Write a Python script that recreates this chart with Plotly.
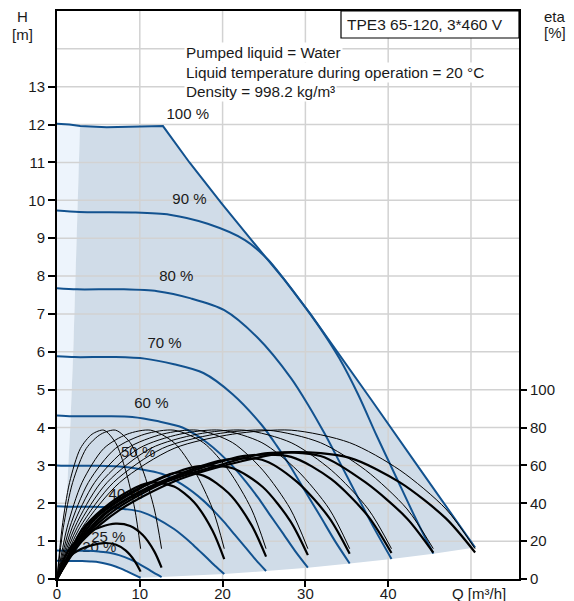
import plotly.graph_objects as go

# ---------------- data ----------------
speed_labels = ["100 %", "90 %", "80 %", "70 %", "60 %", "50 %", "40 %", "25 %", "20 %"]
label_q = [15.8, 16.0, 14.4, 13.0, 11.4, 9.8, 8.3, 6.2, 5.1]
label_h = [12.25, 10.0, 7.98, 6.2, 4.62, 3.31, 2.22, 1.08, 0.82]

# head curves  Q [m3/h], H [m]
q100 = [0, 1.5, 2.8, 6, 10, 12.8, 16, 19.9, 23.3, 27.5, 30.6, 34.5, 38, 44, 50.5]
h100 = [12.02, 12.0, 11.96, 11.93, 11.95, 11.96, 11.0, 9.91, 9.0, 7.89, 7.0, 5.78, 4.72, 2.85, 0.83]
q90 = [0, 2.7, 9.1, 13.6, 18.2, 22.7, 25.5, 27.3, 29.5, 31.8, 34.1, 36.4, 38.6, 40.9, 43.2, 45.45]
h90 = [9.73, 9.69, 9.68, 9.62, 9.38, 8.95, 8.43, 7.95, 7.32, 6.62, 5.83, 4.86, 3.79, 2.72, 1.65, 0.67]
q80 = [0, 2.42, 8.08, 12.12, 16.16, 20.2, 24.24, 28.28, 30.3, 32.32, 34.34, 36.36, 38.38, 40.4]
h80 = [7.68, 7.65, 7.65, 7.60, 7.41, 7.10, 6.37, 5.30, 4.61, 3.84, 3.0, 2.15, 1.31, 0.53]
q70 = [0, 2.12, 7.07, 10.6, 14.14, 17.68, 21.21, 24.75, 26.51, 28.28, 30.05, 31.82, 33.58, 35.35]
h70 = [5.88, 5.86, 5.86, 5.82, 5.67, 5.44, 4.88, 4.06, 3.53, 2.94, 2.29, 1.65, 1.0, 0.41]
q60 = [0, 1.82, 6.06, 9.09, 12.12, 15.15, 18.18, 21.21, 22.73, 24.24, 25.76, 27.27, 28.79, 30.3]
h60 = [4.32, 4.30, 4.30, 4.28, 4.17, 4.0, 3.59, 2.98, 2.59, 2.16, 1.68, 1.21, 0.73, 0.30]
q50 = [0, 1.52, 5.05, 7.58, 10.1, 12.63, 15.15, 17.68, 18.94, 20.2, 21.46, 22.73, 23.99, 25.25]
h50 = [3.0, 2.99, 2.99, 2.97, 2.90, 2.78, 2.49, 2.07, 1.8, 1.5, 1.17, 0.84, 0.51, 0.21]
q40 = [0, 1.21, 4.04, 6.06, 8.08, 10.1, 12.12, 14.14, 15.15, 16.16, 17.17, 18.18, 19.19, 20.2]
h40 = [1.92, 1.91, 1.91, 1.90, 1.85, 1.78, 1.59, 1.32, 1.15, 0.96, 0.75, 0.54, 0.33, 0.13]
q25 = [0, 0.76, 2.53, 3.79, 5.05, 6.32, 7.58, 8.84, 9.47, 10.1, 10.74, 11.37, 12.0, 12.63]
h25 = [0.75, 0.747, 0.747, 0.743, 0.724, 0.694, 0.623, 0.518, 0.45, 0.375, 0.293, 0.21, 0.128, 0.052]
q20 = [0, 0.61, 2.02, 3.03, 4.04, 5.05, 6.06, 7.07, 7.58, 8.08, 8.59, 9.09, 9.6, 10.1]
h20 = [0.48, 0.478, 0.478, 0.475, 0.463, 0.444, 0.398, 0.331, 0.288, 0.24, 0.187, 0.134, 0.082, 0.033]

# efficiency curves  Q [m3/h], eta [%]
qe100 = [0, 3.03, 7.58, 14.14, 21.21, 28.28, 35.35, 41.41, 46.97, 50.5]
qe90 = [0, 2.73, 6.82, 12.73, 19.09, 25.45, 31.82, 37.27, 42.27, 45.45]
qe80 = [0, 2.42, 6.06, 11.31, 16.97, 22.62, 28.28, 33.13, 37.57, 40.4]
qe70 = [0, 2.12, 5.30, 9.90, 14.85, 19.80, 24.75, 28.99, 32.88, 35.35]
qe60 = [0, 1.82, 4.55, 8.48, 12.73, 16.97, 21.21, 24.85, 28.18, 30.3]
qe50 = [0, 1.52, 3.79, 7.07, 10.61, 14.14, 17.68, 20.71, 23.48, 25.25]
qe40 = [0, 1.21, 3.03, 5.66, 8.48, 11.31, 14.14, 16.56, 18.79, 20.2]
qe25 = [0, 0.76, 1.89, 3.54, 5.30, 7.07, 8.84, 10.36, 11.75, 12.63]
qe20 = [0, 0.61, 1.52, 2.83, 4.24, 5.66, 7.07, 8.28, 9.39, 10.1]
eta_pump = [0, 27, 51, 69, 76.5, 78.6, 72, 57.5, 37, 16]
eta_tot100 = [0, 20, 36.5, 51.5, 61, 67, 64, 51, 32, 14]
eta_tot90 = [0, 19.5, 36, 50.5, 59.5, 66.5, 65, 51, 32, 13.9]
eta_tot80 = [0, 18, 35, 48.5, 58, 65, 64.5, 52.7, 33.2, 13.7]
eta_tot70 = [0, 16, 33, 46, 55.5, 62.5, 63, 51.3, 32.3, 13.3]
eta_tot60 = [0, 14.5, 31.5, 44, 53.5, 59.5, 58.5, 48.6, 30.6, 12.6]
eta_tot50 = [0, 12.5, 29, 41, 49.5, 56, 54.6, 45.4, 28.6, 11.8]
eta_tot40 = [0, 11, 26, 37.5, 46, 51, 48.8, 40.5, 25.5, 10.5]
eta_tot25 = [0, 9.9, 18.1, 24.1, 27.5, 29.2, 28, 23.2, 14.6, 6]
eta_tot20 = [0, 6.4, 11.8, 15.7, 17.9, 19, 18.2, 15.1, 9.5, 3.9]

# operating-range boundaries
minflow_q = [2.78, 2.53, 2.26, 1.96, 1.6, 1.13, 0.55]
minflow_h = [11.96, 10, 8, 6, 4, 2, 0.478]
endline_q = [50.5, 45.45, 40.4, 35.35, 30.3, 25.25, 20.2, 12.63, 10.1]
endline_h = [0.83, 0.67, 0.53, 0.41, 0.30, 0.21, 0.13, 0.052, 0.033]

# axes
q_ticks = [0, 10, 20, 30, 40]
q_grid = [10, 20, 30, 40, 50]
h_ticks = list(range(0, 14))
h_grid = list(range(1, 15))
eta_ticks = [0, 20, 40, 60, 80, 100]

# ---------------- figure ----------------
BLUE = "#12528f"
FONT = "Liberation Sans, Arial, sans-serif"
TXT = "#1a1a1a"
fig = go.Figure()

# light zone left of min flow line
lq = [0, 0] + q100[1:3] + minflow_q[1:] + [0]
lh = [0, h100[0]] + h100[1:3] + minflow_h[1:] + [0]
fig.add_trace(go.Scatter(x=lq, y=lh, fill="toself", fillcolor="#edf4fc",
                         line=dict(width=0), mode="lines", hoverinfo="skip"))

# operating zone
dq = q100[2:] + endline_q[1:] + q20[::-1][1:-1] + minflow_q[::-1]
dh = h100[2:] + endline_h[1:] + h20[::-1][1:-1] + minflow_h[::-1]
fig.add_trace(go.Scatter(x=dq, y=dh, fill="toself", fillcolor="#d0dce8",
                         line=dict(width=0), mode="lines", hoverinfo="skip"))

# grid lines (over the fills)
gx, gy = [], []
for g in q_grid:
    gx += [g, g, None]
    gy += [0, 15, None]
for g in h_grid:
    gx += [0, 55.8, None]
    gy += [g, g, None]
fig.add_trace(go.Scatter(x=gx, y=gy, mode="lines", line=dict(color="#d2d2d2", width=1.5),
                         hoverinfo="skip"))

# speed labels
fig.add_trace(go.Scatter(x=label_q, y=label_h, mode="text", text=speed_labels,
                         textfont=dict(family=FONT, size=15, color=TXT),
                         hoverinfo="skip"))

# head curves
fig.add_trace(go.Scatter(x=q100, y=h100, mode="lines", line=dict(color=BLUE, width=2),
                         hoverinfo="skip"))
for qs, hs in [(q90, h90), (q80, h80), (q70, h70), (q60, h60), (q50, h50),
               (q40, h40), (q25, h25), (q20, h20)]:
    fig.add_trace(go.Scatter(x=qs, y=hs, mode="lines",
                             line=dict(color=BLUE, width=2, shape="spline", smoothing=0.8),
                             hoverinfo="skip"))

# efficiency curves
qe_all = [qe100, qe90, qe80, qe70, qe60, qe50, qe40, qe25, qe20]
tot_all = [eta_tot100, eta_tot90, eta_tot80, eta_tot70, eta_tot60, eta_tot50,
           eta_tot40, eta_tot25, eta_tot20]
for qs in qe_all:
    fig.add_trace(go.Scatter(x=qs, y=eta_pump, yaxis="y2", mode="lines",
                             line=dict(color="black", width=1, shape="spline", smoothing=0.8),
                             hoverinfo="skip"))
for qs, es in zip(qe_all, tot_all):
    fig.add_trace(go.Scatter(x=qs, y=es, yaxis="y2", mode="lines",
                             line=dict(color="black", width=2.2, shape="spline", smoothing=0.8),
                             hoverinfo="skip"))

axis_common = dict(showgrid=False, zeroline=False, showline=True, linecolor="black",
                   linewidth=2, ticks="outside", tickwidth=1.5,
                   tickcolor="black", tickfont=dict(family=FONT, size=15, color=TXT))

fig.update_layout(
    width=574, height=601,
    margin=dict(l=57, r=55, t=11, b=22, autoexpand=False),
    paper_bgcolor="white", plot_bgcolor="white",
    showlegend=False,
    font=dict(family=FONT, size=15, color=TXT),
    xaxis=dict(range=[0, 55.8], tickvals=q_ticks, mirror=True, ticklen=6,
               ticklabelstandoff=-6, **axis_common),
    yaxis=dict(range=[0, 15], tickvals=h_ticks, mirror=True, ticklen=7, **axis_common),
    yaxis2=dict(range=[0, 300], tickvals=eta_ticks, overlaying="y", side="right",
                showgrid=False, zeroline=False, showline=False, ticks="outside",
                ticklen=7, tickwidth=1.5, tickcolor="black",
                tickfont=dict(family=FONT, size=15, color=TXT)),
)


def px_x(p):
    return (p - 57) / 462.0


def px_y(p):
    return (579 - p) / 568.0


fig.add_shape(type="rect", xref="paper", yref="paper", x0=px_x(341), x1=1.0,
              y0=px_y(38), y1=1.0, line=dict(color="black", width=1.2),
              fillcolor="white", layer="above")

ann = [
    ("TPE3 65-120, 3*460 V", 425, 24.5, "center", None, 15.5),
    ("H", 22, 17, "center", None, 15),
    ("[m]", 22, 34, "center", None, 15),
    ("eta", 555, 17, "center", None, 15),
    ("[%]", 555, 33, "center", None, 15),
    ("Q [m³/h]", 479, 593, "center", None, 15),
    ("Pumped liquid = Water", 184, 52.7, "left", "white", 15.3),
    ("Liquid temperature during operation = 20 °C", 184, 72.7, "left", "white", 15.3),
    ("Density = 998.2 kg/m³", 184, 91.7, "left", "white", 15.3),
]
for text, x, y, anchor, bg, fs in ann:
    fig.add_annotation(text=text, xref="paper", yref="paper", x=px_x(x), y=px_y(y),
                       xanchor=anchor, yanchor="middle", showarrow=False,
                       font=dict(family=FONT, size=fs, color=TXT),
                       bgcolor=bg if bg else "rgba(0,0,0,0)", borderpad=1)

fig.write_html("out.html", config={"displayModeBar": False},
               post_script="document.body.style.margin='0px';"
                           "document.body.style.overflow='hidden';")
